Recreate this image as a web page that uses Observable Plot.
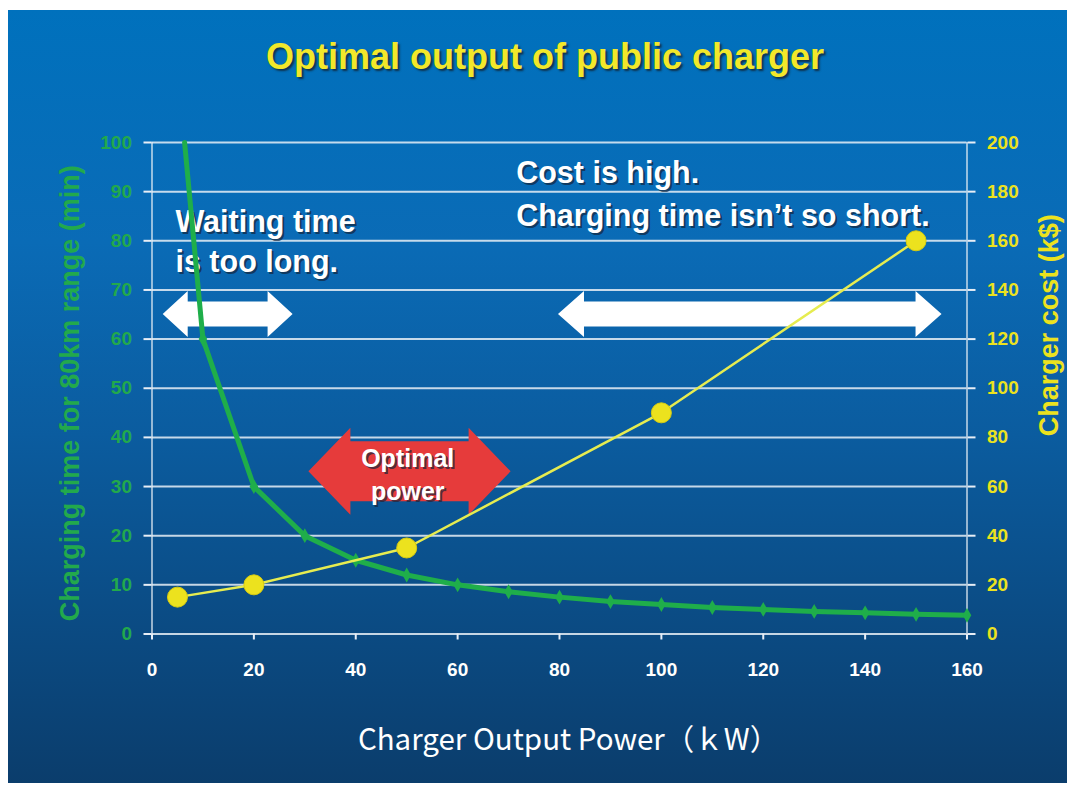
<!DOCTYPE html>
<html>
<head>
<meta charset="utf-8">
<script src="https://cdn.jsdelivr.net/npm/d3@7"></script>
<script src="https://cdn.jsdelivr.net/npm/@observablehq/plot@0.6"></script>
<style>
  html, body { margin: 0; padding: 0; background: #ffffff; }
  #wrap { position: relative; width: 1067px; height: 792px; overflow: hidden; background: #ffffff; }
  #panel { position: absolute; left: 8px; top: 10px; width: 1059px; height: 773px;
    background: linear-gradient(to bottom, #0071bd 0%, #0a6bb6 30%, #0b5c9f 55%, #0b4c85 78%, #0b3d6c 100%); }
  #title { position: absolute; left: 0; top: 36px; width: 1090px; text-align: center;
    font-family: "Liberation Sans", Arial, sans-serif; font-weight: bold; font-size: 36px;
    color: #f2e82a; text-shadow: 2px 2px 2px rgba(20, 30, 40, 0.75); }
  #chart { position: absolute; left: 0; top: 0; }
  #chart svg { background: transparent; overflow: visible; }
</style>
</head>
<body>
<div id="wrap">
  <div id="panel"></div>
  <div id="chart"></div>
  <div id="title">Optimal output of public charger</div>
</div>
<script>
// ---- data ----
const power = [6.4, 10, 20, 30, 40, 50, 60, 70, 80, 90, 100, 110, 120, 130, 140, 150, 160];
const chargeTime = [100, 60, 30, 20, 15, 12, 10, 8.6, 7.5, 6.6, 6.0, 5.4, 5.0, 4.6, 4.3, 4.0, 3.8];
const costPower = [5, 20, 50, 100, 150];
const costK = [15, 20, 35, 90, 160];
const xTicks = [0, 20, 40, 60, 80, 100, 120, 140, 160];
const timeTicks = [0, 10, 20, 30, 40, 50, 60, 70, 80, 90, 100];
const costTicks = [0, 20, 40, 60, 80, 100, 120, 140, 160, 180, 200];

const chartTitle = "Optimal output of public charger";
const xLabel = "Charger Output Power\uFF08\uFF4BW\uFF09";
const yLeftLabel = "Charging time for 80km range (min)";
const yRightLabel = "Charger cost (k$)";

// annotation texts (data units: x = kW, y = minutes)
const noteText = ["Cost is high.", "Charging time isn\u2019t so short.", "Waiting time", "is too long."];
const noteX = [71.5, 71.5, 4.6, 4.6];
const noteY = [93.8, 84.9, 83.8, 75.6];

// double arrows (data units)
const arrowName = ["waitLong", "costHigh", "optimal"];
const arrowX1 = [2.2, 79.8, 30.8];
const arrowX2 = [27.7, 155.1, 70.5];
const arrowY = [65, 65, 33];
const optimalText = ["Optimal", "power"];
const optimalX = [50.2, 50.2];
const optimalY = [35.6, 28.8];

// ---- derived tables ----
const ratio = costTicks[costTicks.length - 1] / timeTicks[timeTicks.length - 1];
const timeData = power.map((p, i) => ({x: p, y: chargeTime[i]}));
const costData = costPower.map((p, i) => ({x: p, y: costK[i] / ratio, cost: costK[i]}));
const notes = noteText.map((t, i) => ({text: t, x: noteX[i], y: noteY[i]}));
const arrows = arrowName.map((n, i) => ({name: n, x1: arrowX1[i], x2: arrowX2[i], y: arrowY[i]}));
const optimal = optimalText.map((t, i) => ({text: t, x: optimalX[i], y: optimalY[i]}));

const arrowStyle = {
  waitLong: {fill: "#ffffff", head: 25, headHalf: 23, shaftHalf: 12.5},
  costHigh: {fill: "#ffffff", head: 26, headHalf: 23, shaftHalf: 12.5},
  optimal: {fill: "#e63b3b", head: 42, headHalf: 43.5, shaftHalf: 30}
};

function arrowMark(index, scales) {
  const g = d3.create("svg:g");
  for (const a of arrows) {
    const s = arrowStyle[a.name];
    const xl = scales.x(a.x1), xr = scales.x(a.x2), yc = scales.y(a.y);
    const pts = [
      [xl, yc], [xl + s.head, yc - s.headHalf], [xl + s.head, yc - s.shaftHalf],
      [xr - s.head, yc - s.shaftHalf], [xr - s.head, yc - s.headHalf], [xr, yc],
      [xr - s.head, yc + s.headHalf], [xr - s.head, yc + s.shaftHalf],
      [xl + s.head, yc + s.shaftHalf], [xl + s.head, yc + s.headHalf]
    ];
    g.append("path")
      .attr("d", "M" + pts.map(p => p.join(",")).join("L") + "Z")
      .attr("fill", s.fill);
  }
  return g.node();
}

const GREEN = "#1fae4a";
const YELLOW = "#ece21e";
const SHADOW = "#14243a";
const font = "'Liberation Sans', Arial, sans-serif";

const chart = Plot.plot({
  width: 1067,
  height: 792,
  marginLeft: 151.5,
  marginRight: 100.5,
  marginTop: 142,
  marginBottom: 158.5,
  style: {background: "transparent", fontFamily: font, overflow: "visible"},
  x: {domain: [0, 160]},
  y: {domain: [0, 100]},
  marks: [
    // grid
    Plot.ruleY(timeTicks, {x1: 0, x2: 160, stroke: "#e8eef6", strokeWidth: 2, strokeOpacity: 0.85}),
    Plot.ruleX([0, 160], {y1: 0, y2: 100, stroke: "#e8eef6", strokeWidth: 1.5, strokeOpacity: 0.85}),
    // axes
    Plot.axisX({ticks: xTicks, tickSize: 6, tickPadding: 22, stroke: "#e8eef6", strokeWidth: 2,
      fill: "#ffffff", fontSize: 19, fontWeight: "bold", label: null}),
    Plot.axisY({anchor: "left", ticks: timeTicks, tickSize: 8, tickPadding: 12, stroke: "#e8eef6", strokeWidth: 2,
      fill: "#22a94c", fontSize: 19, fontWeight: "bold", label: null}),
    Plot.axisY({anchor: "right", ticks: timeTicks, tickSize: 8, tickPadding: 12, stroke: "#e8eef6", strokeWidth: 2,
      fill: YELLOW, fontSize: 19, fontWeight: "bold", tickFormat: d => d * ratio, label: null}),
    // axis labels
    Plot.text([yLeftLabel], {frameAnchor: "left", textAnchor: "middle", lineAnchor: "middle",
      dx: -81.5, dy: 5, rotate: -90, fill: "#22a94c", fontSize: 27, fontWeight: "bold"}),
    Plot.text([yRightLabel], {frameAnchor: "right", textAnchor: "middle", lineAnchor: "middle",
      dx: 82, dy: -63, rotate: -90, fill: YELLOW, fontSize: 27, fontWeight: "bold"}),
    Plot.text([xLabel], {frameAnchor: "bottom", lineAnchor: "middle", dx: 9, dy: 107, fill: "#ffffff", fontSize: 29.5,
      fontFamily: "'Noto Sans CJK JP', 'Noto Sans', sans-serif"}),
    // arrows
    arrowMark,
    // arrow texts
    Plot.text(optimal, {x: "x", y: "y", text: "text", fill: SHADOW, fillOpacity: 0.7, dx: 2, dy: 2,
      fontSize: 25, fontWeight: "bold"}),
    Plot.text(optimal, {x: "x", y: "y", text: "text", fill: "#ffffff", fontSize: 25, fontWeight: "bold"}),
    // notes
    Plot.text(notes, {x: "x", y: "y", text: "text", textAnchor: "start", fill: SHADOW, fillOpacity: 0.7,
      dx: 2, dy: 2, fontSize: 30.5, fontWeight: "bold"}),
    Plot.text(notes, {x: "x", y: "y", text: "text", textAnchor: "start", fill: "#ffffff",
      fontSize: 30.5, fontWeight: "bold"}),
    // charging time
    Plot.line(timeData, {x: "x", y: "y", stroke: GREEN, strokeWidth: 5}),
    Plot.dot(timeData.slice(1), {x: "x", y: "y", symbol: "diamond", r: 4.5, fill: GREEN}),
    // charger cost
    Plot.line(costData, {x: "x", y: "y", stroke: "#e6ec50", strokeWidth: 2.5}),
    Plot.dot(costData, {x: "x", y: "y", r: 10, fill: YELLOW, stroke: "#d8cc10", strokeWidth: 1})
  ]
});
document.getElementById("chart").appendChild(chart);
</script>
</body>
</html>
